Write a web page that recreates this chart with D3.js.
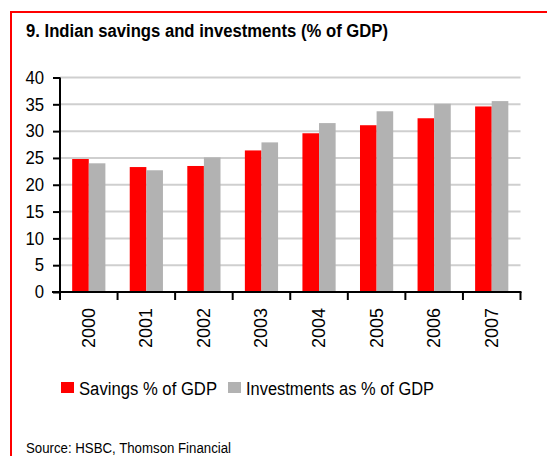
<!DOCTYPE html>
<html>
<head>
<meta charset="utf-8">
<script src="https://cdn.jsdelivr.net/npm/d3@7"></script>
<style>
  body { margin: 0; background: #fff; }
  text { font-family: "Liberation Sans", Arial, sans-serif; fill: #000; }
</style>
</head>
<body>
<script>
// chart data
var years = ["2000", "2001", "2002", "2003", "2004", "2005", "2006", "2007"]
var savings = [24.8, 23.3, 23.5, 26.4, 29.6, 31.1, 32.4, 34.6]
var investments = [24.0, 22.7, 25.1, 27.9, 31.5, 33.7, 35.1, 35.6]
var yTicks = [0, 5, 10, 15, 20, 25, 30, 35, 40]
var seriesNames = ["Savings % of GDP", "Investments as % of GDP"]
var colors = ["#ff0000", "#b2b2b2"]

var W = 547, H = 456
var svg = d3.select("body").append("svg")
          .attr("width", W)
          .attr("height", H)

// red frame (top and left only)
svg.append("line").attr("x1", 11).attr("x2", W).attr("y1", 12).attr("y2", 12)
   .attr("stroke", "#ff0000").attr("stroke-width", 2)
svg.append("line").attr("x1", 11).attr("x2", 11).attr("y1", 11).attr("y2", H)
   .attr("stroke", "#ff0000").attr("stroke-width", 2)

svg.append("text")
   .attr("x", 26).attr("y", 37)
   .attr("font-size", 17.5).attr("font-weight", "bold")
   .attr("textLength", 362).attr("lengthAdjust", "spacingAndGlyphs")
   .text("9. Indian savings and investments (% of GDP)")

var plotL = 60, plotR = 520.5, plotT = 77.5, plotB = 292

var x = d3.scaleBand().domain(years).range([plotL, plotR]).paddingInner(0).paddingOuter(0)
var y = d3.scaleLinear().domain([0, 40]).range([plotB, plotT])

// gridlines
svg.selectAll(".grid")
    .data(yTicks.filter(function(d) { return d > 0 }))
    .enter().append("line")
        .attr("class", "grid")
        .attr("x1", plotL).attr("x2", plotR)
        .attr("y1", function(d) { return y(d) })
        .attr("y2", function(d) { return y(d) })
        .attr("stroke", "#cfcfcf")
        .attr("stroke-width", 2)

var barW = 16.6
var groupOff = (x.bandwidth() - 2 * barW) / 2

svg.selectAll(".bar")
    .data(years)
    .enter().append("rect")
        .attr("class", "bar")
        .attr("x", function(d) { return x(d) + groupOff })
        .attr("y", function(d, i) { return y(savings[i]) })
        .attr("width", barW)
        .attr("height", function(d, i) { return plotB - y(savings[i]) })
        .attr("fill", colors[0])

svg.selectAll(".bar2")
    .data(years)
    .enter().append("rect")
        .attr("class", "bar2")
        .attr("x", function(d) { return x(d) + groupOff + barW })
        .attr("y", function(d, i) { return y(investments[i]) })
        .attr("width", barW)
        .attr("height", function(d, i) { return plotB - y(investments[i]) })
        .attr("fill", colors[1])

// y axis
var yAxis = d3.axisLeft(y).tickValues(yTicks).tickSize(7).tickPadding(9)
var gy = svg.append("g").attr("transform", "translate(" + plotL + ",0)").call(yAxis)
gy.select(".domain").attr("stroke", "#000").attr("stroke-width", 2).attr("d", "M0," + (plotB + 1) + "V" + plotT)
gy.selectAll(".tick line").attr("stroke", "#000").attr("stroke-width", 2)
gy.selectAll(".tick text").attr("font-size", 18).attr("font-family", "Liberation Sans, Arial, sans-serif").attr("fill", "#000")
  .attr("transform", "scale(0.93,1)").attr("x", -16 / 0.93)

// x axis: ticks at category boundaries
svg.append("line").attr("x1", plotL - 8).attr("x2", plotR + 1)
   .attr("y1", plotB).attr("y2", plotB)
   .attr("stroke", "#000").attr("stroke-width", 2)
svg.selectAll(".xtick")
    .data(years.concat(["end"]))
    .enter().append("line")
        .attr("class", "xtick")
        .attr("x1", function(d, i) { return plotL + i * x.step() })
        .attr("x2", function(d, i) { return plotL + i * x.step() })
        .attr("y1", plotB).attr("y2", plotB + 8)
        .attr("stroke", "#000").attr("stroke-width", 2)

svg.selectAll(".xlabel")
    .data(years)
    .enter().append("text")
        .attr("class", "xlabel")
        .attr("transform", function(d) { return "translate(" + (x(d) + x.bandwidth() / 2 + 6) + ",308) rotate(-90)" })
        .attr("text-anchor", "end")
        .attr("font-size", 18)
        .attr("textLength", 40).attr("lengthAdjust", "spacingAndGlyphs")
        .text(function(d) { return d })

// legend
var legX = [61, 228]
var legLen = [138, 188]
seriesNames.forEach(function(name, i) {
    svg.append("rect").attr("x", legX[i]).attr("y", 382).attr("width", 13).attr("height", 11).attr("fill", colors[i])
    svg.append("text").attr("x", legX[i] + 18).attr("y", 395).attr("font-size", 18)
       .attr("textLength", legLen[i]).attr("lengthAdjust", "spacingAndGlyphs").text(name)
})

svg.append("text").attr("x", 26).attr("y", 453).attr("font-size", 14)
   .attr("textLength", 205).attr("lengthAdjust", "spacingAndGlyphs")
   .text("Source: HSBC, Thomson Financial")
</script>
</body>
</html>
